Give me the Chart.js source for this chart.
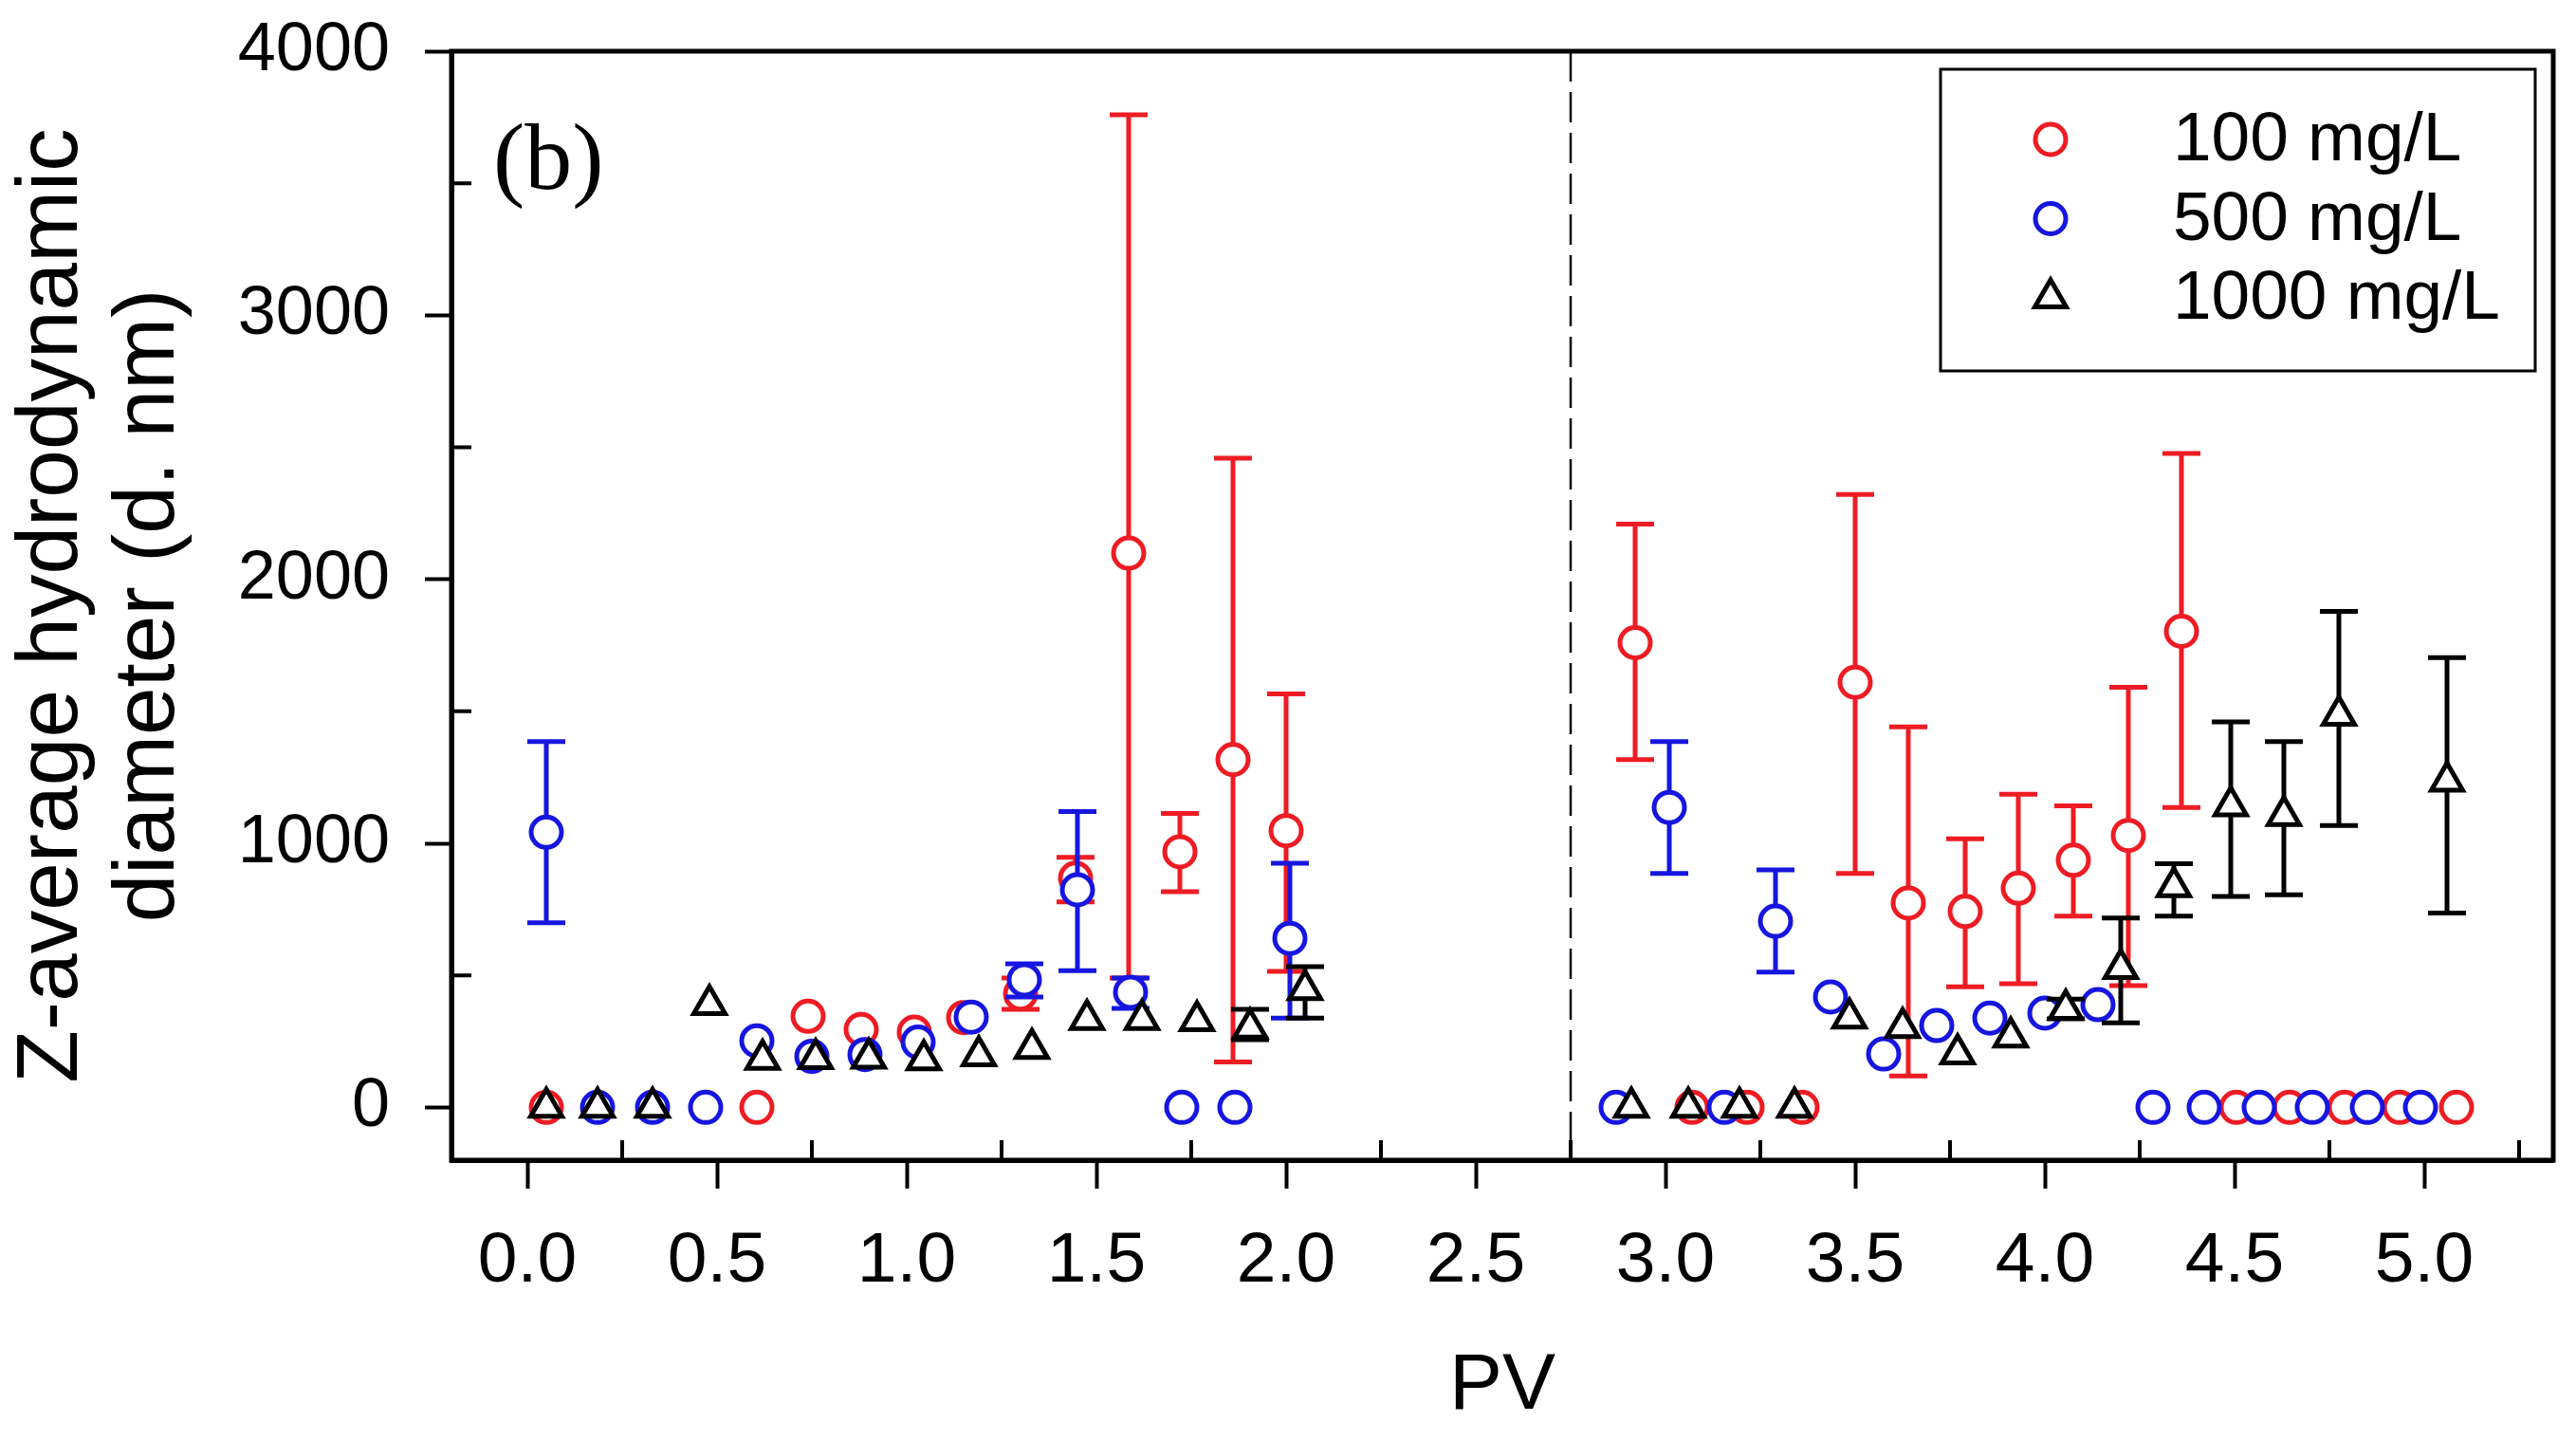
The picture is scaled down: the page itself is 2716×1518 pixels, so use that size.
<!DOCTYPE html>
<html>
<head>
<meta charset="utf-8">
<script src="https://cdn.jsdelivr.net/npm/chart.js@4.4.1/dist/chart.umd.min.js"></script>
<style>
  html, body { margin: 0; padding: 0; background: #fff; }
  #wrap { width: 2716px; height: 1518px; }
</style>
</head>
<body>
<div id="wrap"><canvas id="c" width="2716" height="1518"></canvas></div>
<script>
// ---------------- data ----------------
const seriesLabels = ['100 mg/L', '500 mg/L', '1000 mg/L'];

const pv100  = [0.05, 0.605, 0.74, 0.88, 1.02, 1.15, 1.30, 1.445, 1.585, 1.72, 1.86, 2.0,
                2.92, 3.07, 3.215, 3.36, 3.50, 3.64, 3.79, 3.93, 4.075, 4.22, 4.36, 4.505, 4.645, 4.79, 4.935, 5.085];
const val100 = [0, 0, 345, 295, 285, 340, 430, 868, 2099, 968, 1317, 1048,
                1760, 0, 0, 0, 1610, 774, 742, 830, 936, 1030, 1803, 0, 0, 0, 0, 0];
const lo100  = [null, null, null, null, null, null, 371, 778, 490, 817, 172, 515,
                1317, null, null, null, 886, 119, 457, 468, 724, 461, 1136, null, null, null, null, null];
const hi100  = [null, null, null, null, null, null, 490, 947, 3759, 1113, 2459, 1566,
                2209, null, null, null, 2321, 1441, 1017, 1186, 1142, 1591, 2477, null, null, null, null, null];

const pv500  = [0.05, 0.185, 0.33, 0.47, 0.605, 0.75, 0.89, 1.03, 1.17, 1.31, 1.45, 1.59, 1.725, 1.865, 2.01,
                2.87, 3.01, 3.155, 3.29, 3.435, 3.575, 3.715, 3.855, 4.0, 4.14, 4.285, 4.42, 4.565, 4.705, 4.85, 4.99];
const val500 = [1042, 0, 0, 0, 252, 193, 200, 247, 342, 483, 824, 436, 0, 0, 640,
                0, 1136, 0, 705, 418, 202, 310, 338, 357, 389, 0, 0, 0, 0, 0, 0];
const lo500  = [699, null, null, null, null, null, null, null, null, 418, 518, 375, null, null, 338,
                null, 886, null, 512, null, null, null, null, null, null, null, null, null, null, null, null];
const hi500  = [1385, null, null, null, null, null, null, null, null, 544, 1120, 490, null, null, 925,
                null, 1385, null, 899, null, null, null, null, null, null, null, null, null, null, null, null];

const pv1000  = [0.05, 0.185, 0.33, 0.48, 0.62, 0.76, 0.9, 1.045, 1.19, 1.33, 1.475, 1.62, 1.765, 1.905, 2.05,
                 2.91, 3.06, 3.195, 3.34, 3.485, 3.625, 3.77, 3.91, 4.055, 4.2, 4.34, 4.49, 4.63, 4.775, 5.06];
const val1000 = [0, 0, 0, 389, 182, 184, 186, 180, 195, 223, 333, 333, 328, 300, 446,
                 0, 0, 0, 0, 338, 302, 202, 266, 371, 526, 836, 1142, 1105, 1485, 1235];
const lo1000  = [null, null, null, null, null, null, null, null, null, null, null, null, null, 256, 338,
                 null, null, null, null, null, null, null, null, 335, 320, 724, 799, 805, 1067, 736];
const hi1000  = [null, null, null, null, null, null, null, null, null, null, null, null, null, 371, 533,
                 null, null, null, null, null, null, null, null, 410, 717, 923, 1460, 1385, 1878, 1703];

const xTicks = [0.0, 0.5, 1.0, 1.5, 2.0, 2.5, 3.0, 3.5, 4.0, 4.5, 5.0];
const xMinorTicks = [0.25, 0.75, 1.25, 1.75, 2.25, 2.75, 3.25, 3.75, 4.25, 4.75, 5.25];
const yTicks = [0, 1000, 2000, 3000, 4000];
const yMinorTicks = [500, 1500, 2500, 3500];
const dividerPV = 2.75;
const panelLabel = '(b)';
const xTitle = 'PV';
const yTitle = ['Z-average hydrodynamic', 'diameter (d. nm)'];

// ---------------- styles ----------------
const RED = '#ee1c24', BLUE = '#1616e0', BLACK = '#000000';
const SANS = "'Liberation Sans', Arial, Helvetica, sans-serif";
const SERIF = "'Liberation Serif', 'Times New Roman', serif";

function pts(xs, ys) { return xs.map((x, i) => ({ x: x, y: ys[i] })); }

const errorBarPlugin = {
  id: 'errorBars',
  beforeDatasetDraw(chart, args) {
    const ds = chart.data.datasets[args.index];
    if (!ds.errLo) return;
    const xs = chart.scales.x, ys = chart.scales.y, ctx = chart.ctx;
    ctx.save();
    ctx.strokeStyle = ds.borderColor;
    ctx.lineWidth = 5;
    ctx.lineCap = 'butt';
    const half = 20;
    ds.data.forEach((p, i) => {
      const lo = ds.errLo[i], hi = ds.errHi[i];
      if (lo == null || hi == null) return;
      const px = xs.getPixelForValue(p.x);
      const yl = ys.getPixelForValue(lo), yh = ys.getPixelForValue(hi);
      ctx.beginPath();
      ctx.moveTo(px, yl); ctx.lineTo(px, yh);
      ctx.moveTo(px - half, yl); ctx.lineTo(px + half, yl);
      ctx.moveTo(px - half, yh); ctx.lineTo(px + half, yh);
      ctx.stroke();
    });
    ctx.restore();
  }
};

const decorPlugin = {
  id: 'decor',
  beforeDatasetsDraw(chart) {
    const ctx = chart.ctx, a = chart.chartArea, xs = chart.scales.x;
    const x = xs.getPixelForValue(dividerPV);
    ctx.save();
    ctx.strokeStyle = '#000';
    ctx.lineWidth = 2.5;
    ctx.setLineDash([32, 11]);
    ctx.beginPath();
    ctx.moveTo(x, a.top); ctx.lineTo(x, a.bottom);
    ctx.stroke();
    ctx.restore();
  },
  afterDraw(chart) {
    const ctx = chart.ctx, a = chart.chartArea, xs = chart.scales.x, ys = chart.scales.y;
    ctx.save();
    // frame
    ctx.strokeStyle = '#000';
    ctx.lineWidth = 5;
    ctx.strokeRect(a.left, a.top, a.right - a.left, a.bottom - a.top);
    // inside minor ticks
    ctx.lineWidth = 4;
    ctx.beginPath();
    xMinorTicks.forEach(v => {
      const px = xs.getPixelForValue(v);
      ctx.moveTo(px, a.bottom); ctx.lineTo(px, a.bottom - 21);
    });
    yMinorTicks.forEach(v => {
      const py = ys.getPixelForValue(v);
      ctx.moveTo(a.left, py); ctx.lineTo(a.left + 21, py);
    });
    ctx.stroke();
    // panel label
    ctx.fillStyle = '#000';
    ctx.font = '100px ' + SERIF;
    ctx.textAlign = 'left';
    ctx.textBaseline = 'alphabetic';
    ctx.fillText(panelLabel, a.left + 44, a.top + 145);
    // legend
    const bw = 627, bh = 318;
    const bx = a.right - 19 - bw, by = a.top + 19;
    ctx.lineWidth = 3;
    ctx.strokeRect(bx, by, bw, bh);
    ctx.font = '73px ' + SANS;
    ctx.textBaseline = 'middle';
    chart.data.datasets.forEach((ds, i) => {
      const cy = by + 74 + i * 83.5;
      ctx.save();
      ctx.strokeStyle = ds.borderColor;
      ctx.fillStyle = '#fff';
      ctx.lineWidth = ds.pointBorderWidth;
      Chart.helpers.drawPoint(ctx, { pointStyle: ds.pointStyle, radius: ds.pointRadius, borderWidth: ds.pointBorderWidth, rotation: 0 }, bx + 116, cy);
      ctx.restore();
      ctx.fillStyle = '#000';
      ctx.fillText(ds.label, bx + 245, cy + 2);
    });
    ctx.restore();
  }
};

new Chart(document.getElementById('c'), {
  type: 'scatter',
  data: {
    datasets: [
      { label: seriesLabels[0], data: pts(pv100, val100), errLo: lo100, errHi: hi100,
        borderColor: RED, backgroundColor: '#fff', pointStyle: 'circle', pointRadius: 16, pointBorderWidth: 5, order: 3 },
      { label: seriesLabels[1], data: pts(pv500, val500), errLo: lo500, errHi: hi500,
        borderColor: BLUE, backgroundColor: '#fff', pointStyle: 'circle', pointRadius: 16, pointBorderWidth: 5, order: 2 },
      { label: seriesLabels[2], data: pts(pv1000, val1000), errLo: lo1000, errHi: hi1000,
        borderColor: BLACK, backgroundColor: '#fff', pointStyle: 'triangle', pointRadius: 19, pointBorderWidth: 5, order: 1 }
    ]
  },
  options: {
    responsive: false,
    devicePixelRatio: 1,
    animation: false,
    events: [],
    layout: { padding: { top: 54, right: 23, left: 0, bottom: 0 } },
    plugins: { legend: { display: false }, tooltip: { enabled: false } },
    scales: {
      x: {
        type: 'linear', min: -0.2, max: 5.34,
        afterFit(s) { s.height = 295; s.paddingLeft = 0; s.paddingRight = 0; },
        afterBuildTicks(s) { s.ticks = xTicks.map(v => ({ value: v })); },
        border: { display: true, color: '#000', width: 5 },
        grid: { display: true, drawOnChartArea: false, drawTicks: true, tickLength: 30, tickWidth: 4, tickColor: '#000' },
        ticks: { color: '#000', padding: 32, font: { size: 75, family: SANS }, maxRotation: 0,
                 callback: v => Number(v).toFixed(1) },
        title: { display: true, text: xTitle, color: '#000', font: { size: 84, family: SANS, lineHeight: 1.2 },
                 padding: { top: 0, bottom: 6 } }
      },
      y: {
        type: 'linear', min: -200, max: 4000,
        afterFit(s) { s.width = 476; s.paddingTop = 0; s.paddingBottom = 0; },
        afterBuildTicks(s) { s.ticks = yTicks.map(v => ({ value: v })); },
        border: { display: true, color: '#000', width: 5 },
        grid: { display: true, drawOnChartArea: false, drawTicks: true, tickLength: 28, tickWidth: 4, tickColor: '#000' },
        ticks: { color: '#000', padding: 37, font: { size: 72, family: SANS },
                 callback: v => String(v) },
        title: { display: true, text: yTitle, color: '#000', font: { size: 91, family: SANS, lineHeight: 1.13 },
                 padding: { top: 4, bottom: 0 } }
      }
    }
  },
  plugins: [errorBarPlugin, decorPlugin]
});
</script>
</body>
</html>
